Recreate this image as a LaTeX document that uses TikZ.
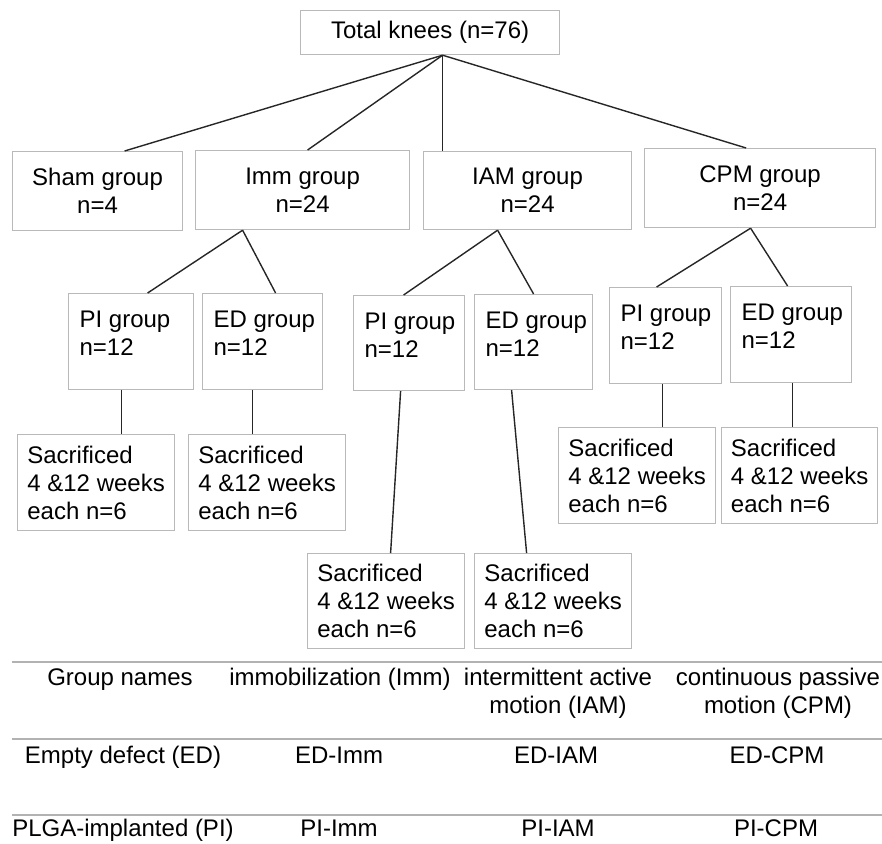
\documentclass[tikz,border=0pt]{standalone}
\usepackage{fontspec}
\setmainfont{Liberation Sans}
\usepackage{tikz}

\begin{document}
\begin{tikzpicture}[x=1pt,y=-1pt,
    every node/.style={font=\fontsize{24}{28}\selectfont},
    box/.style={draw=gray!55,line width=1.2pt,anchor=north west,inner sep=0pt},
    link/.style={black!85,line width=1.4pt},
    rule/.style={gray!60,line width=1.4pt}]
    \useasboundingbox (0,0) rectangle (882,843);

    % top box
    \node[box,minimum width=259,minimum height=44] (total) at (300,10) {Total knees (n=76)};
    \coordinate (hub) at ([xshift=12.5]total.south);

    % treatment groups
    \node[box,minimum width=170,minimum height=79,align=center] (sham) at (12,151) {Sham group\\n=4};
    \node[box,minimum width=214,minimum height=79,align=center] (imm) at (195,150) {Imm group\\n=24};
    \node[box,minimum width=208,minimum height=78,align=center] (iam) at (423,151) {IAM group\\n=24};
    \node[box,minimum width=231,minimum height=79,align=center] (cpm) at (644,148) {CPM group\\n=24};

    % PI / ED subgroups
    \node[box] (immpi) at (68,293) {\hspace*{11pt}\parbox[b][96pt][t]{114pt}{\vspace*{17pt}PI group\\n=12}};
    \node[box] (immed) at (202,293) {\hspace*{11pt}\parbox[b][96pt][t]{109pt}{\vspace*{17pt}ED group\\n=12}};
    \node[box] (iampi) at (353,295) {\hspace*{11pt}\parbox[b][95pt][t]{100pt}{\vspace*{17pt}PI group\\n=12}};
    \node[box] (iamed) at (474,294) {\hspace*{11pt}\parbox[b][95pt][t]{107pt}{\vspace*{17pt}ED group\\n=12}};
    \node[box] (cpmpi) at (609,287) {\hspace*{11pt}\parbox[b][96pt][t]{101pt}{\vspace*{17pt}PI group\\n=12}};
    \node[box] (cpmed) at (730,286) {\hspace*{11pt}\parbox[b][96pt][t]{110pt}{\vspace*{17pt}ED group\\n=12}};

    % sacrificed
    \node[box,minimum width=157,minimum height=96,align=left] (immpis) at (17,434) {Sacrificed\\4 \&12 weeks\\each n=6};
    \node[box,minimum width=157,minimum height=96,align=left] (immeds) at (188,434) {Sacrificed\\4 \&12 weeks\\each n=6};
    \node[box,minimum width=157,minimum height=95,align=left] (iampis) at (307,553) {Sacrificed\\4 \&12 weeks\\each n=6};
    \node[box,minimum width=157,minimum height=95,align=left] (iameds) at (474,553) {Sacrificed\\4 \&12 weeks\\each n=6};
    \node[box,minimum width=157,minimum height=96,align=left] (cpmpis) at (558,427) {Sacrificed\\4 \&12 weeks\\each n=6};
    \node[box,minimum width=156,minimum height=96,align=left] (cpmeds) at (721,427) {Sacrificed\\4 \&12 weeks\\each n=6};

    % links
    \draw[link] (hub) -- ([xshift=27]sham.north);
    \draw[link] (hub) -- ([xshift=5]imm.north);
    \draw[link] (hub) -- (hub |- iam.north);
    \draw[link] (hub) -- ([xshift=-14]cpm.north);

    \draw[link] ([xshift=-60]imm.south) -- ([xshift=16.5]immpi.north);
    \draw[link] ([xshift=-60]imm.south) -- ([xshift=13]immed.north);
    \draw[link] ([xshift=-30]iam.south) -- ([xshift=-5.5]iampi.north);
    \draw[link] ([xshift=-30]iam.south) -- (iamed.north);
    \draw[link] ([xshift=-9.5]cpm.south) -- ([xshift=-9]cpmpi.north);
    \draw[link] ([xshift=-9.5]cpm.south) -- ([xshift=-3.5]cpmed.north);

    \draw[link] ([xshift=-9.5]immpi.south) -- ([xshift=-9.5]immpi.south |- immpis.north);
    \draw[link] ([xshift=-10]immed.south) -- ([xshift=-10]immed.south |- immeds.north);
    \draw[link] ([xshift=-8.5]iampi.south) -- ([xshift=4.5]iampis.north);
    \draw[link] ([xshift=-22]iamed.south) -- ([xshift=-26.5]iameds.north);
    \draw[link] ([xshift=-3]cpmpi.south) -- ([xshift=-3]cpmpi.south |- cpmpis.north);
    \draw[link] ([xshift=1.5]cpmed.south) -- ([xshift=1.5]cpmed.south |- cpmeds.north);

    % table
    \draw[rule] (12,662) -- (882,662);
    \draw[rule] (12,739) -- (882,739);
    \draw[rule] (12,815) -- (882,815);

    \node[anchor=base] (hname) at (120,685) {Group names};
    \node[anchor=base] (himm) at (340,685) {immobilization (Imm)};
    \node[align=center] (hiam) at (558,693) {intermittent active\\motion (IAM)};
    \node[align=center] (hcpm) at (778,693) {continuous passive\\motion (CPM)};

    \node[anchor=base] (rowed) at (123,763) {Empty defect (ED)};
    \node[anchor=base] (edimm) at (339,763) {ED-Imm};
    \node[anchor=base] (ediam) at (556,763) {ED-IAM};
    \node[anchor=base] (edcpm) at (777,763) {ED-CPM};

    \node[anchor=base] (rowpi) at (123,836) {PLGA-implanted (PI)};
    \node[anchor=base] (piimm) at (339,836) {PI-Imm};
    \node[anchor=base] (piiam) at (558,836) {PI-IAM};
    \node[anchor=base] (picpm) at (776,836) {PI-CPM};
\end{tikzpicture}
\end{document}
